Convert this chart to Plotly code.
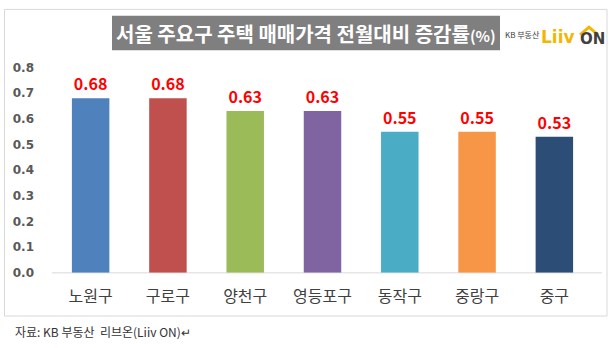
import plotly.graph_objects as go

# Month-on-month change of housing sale prices, selected Seoul districts (%)
districts = ["노원구", "구로구", "양천구", "영등포구", "동작구", "중랑구", "중구"]
changes = [0.68, 0.68, 0.63, 0.63, 0.55, 0.55, 0.53]
bar_colors = ["#4F81BD", "#C0504D", "#9BBB59", "#8064A2", "#4BACC6", "#F79646", "#2C4D75"]
y_ticks = [0.0, 0.1, 0.2, 0.3, 0.4, 0.5, 0.6, 0.7, 0.8]

W, H = 609, 348


def px(x):
    return x / W


def py(y):
    return 1 - y / H


FONT = "Noto Sans CJK KR"

fig = go.Figure(
    go.Bar(
        x=districts,
        y=changes,
        marker=dict(color=bar_colors, line=dict(width=0)),
        text=[f"{v:.2f}" for v in changes],
        textposition="outside",
        textfont=dict(family=FONT, size=16, color="#FF0000", weight="bold"),
        cliponaxis=False,
        hoverinfo="skip",
    )
)

fig.update_layout(
    width=W,
    height=H,
    margin=dict(l=0, r=0, t=0, b=0),
    paper_bgcolor="white",
    plot_bgcolor="white",
    bargap=0.515,
    showlegend=False,
    font=dict(family=FONT),
)

fig.update_xaxes(
    domain=[px(52), px(593)],
    showgrid=False,
    showline=False,
    zeroline=False,
    ticks="",
    tickfont=dict(family=FONT, size=16, color="#404040"),
    ticklabelstandoff=12,
)

fig.update_yaxes(
    domain=[py(277), py(63)],
    range=[0, 0.8],
    tickvals=y_ticks,
    ticktext=[f"{v:.1f}" for v in y_ticks],
    showgrid=False,
    zeroline=False,
    showline=False,
    ticks="",
    tickfont=dict(family="DejaVu Sans", size=12, color="#595959", weight="bold"),
    ticklabelstandoff=17,
)

shapes = [
    # outer chart frame
    dict(type="rect", xref="paper", yref="paper",
         x0=px(4.5), x1=px(607), y0=py(322), y1=py(2.5),
         line=dict(color="#D9D9D9", width=1), fillcolor="rgba(0,0,0,0)", layer="below"),
    # category axis baseline
    dict(type="line", xref="paper", yref="paper",
         x0=px(52), x1=px(602), y0=py(277), y1=py(277),
         line=dict(color="#D9D9D9", width=1), layer="below"),
    # title banner
    dict(type="rect", xref="paper", yref="paper",
         x0=px(112), x1=px(500), y0=py(45), y1=py(9),
         line=dict(color="#7F7F7F", width=0), fillcolor="#7F7F7F", layer="above"),
    # roof over the "O" of the logo
    dict(type="path", xref="paper", yref="paper",
         path=f"M {px(580)},{py(29)} L {px(589)},{py(21)} L {px(598)},{py(29)}",
         line=dict(color="#F2B705", width=3)),
]

annotations = [
    dict(text="서울 주요구 주택 매매가격 전월대비 증감률<span style='font-size:15px'>(%)</span>",
         xref="paper", yref="paper", x=px(306), y=py(27.5),
         xanchor="center", yanchor="middle", showarrow=False,
         font=dict(family=FONT, size=20, color="white", weight="bold")),
    dict(text="KB 부동산", xref="paper", yref="paper", x=px(503), y=py(29),
         xanchor="left", yanchor="middle", showarrow=False,
         font=dict(family=FONT, size=8, color="#404040")),
    dict(text="<b>Liiv</b>", xref="paper", yref="paper", x=px(539), y=py(31),
         xanchor="left", yanchor="middle", showarrow=False,
         font=dict(family="DejaVu Sans", size=17, color="#F2B705")),
    dict(text="<b>ON</b>", xref="paper", yref="paper", x=px(578), y=py(33),
         xanchor="left", yanchor="middle", showarrow=False,
         font=dict(family="DejaVu Sans", size=15, color="#404040")),
    dict(text="자료: KB 부동산  리브온(Liiv ON)↵", xref="paper", yref="paper",
         x=px(13), y=py(338), xanchor="left", yanchor="middle", showarrow=False,
         font=dict(family=FONT, size=12, color="#333333")),
]

fig.update_layout(shapes=shapes, annotations=annotations)

fig.write_html("out.html")
